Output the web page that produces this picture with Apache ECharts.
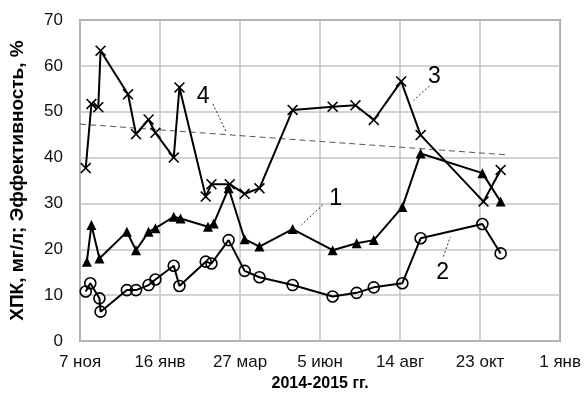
<!DOCTYPE html>
<html><head><meta charset="utf-8">
<script src="https://cdn.jsdelivr.net/npm/echarts@6/dist/echarts.min.js"></script>
<style>html,body{margin:0;padding:0;background:#fff}#c{width:584px;height:399px}</style>
</head><body><div id="c"></div>
<script>
// x values: days since 7 Nov 2014
const tickLabels = ['7 ноя','16 янв','27 мар','5 июн','14 авг','23 окт','1 янв'];
const s1Days = [6,10,17,41,49,60,66,82,88,112,117,130,144,157,186,221,242,257,282,298,352,368];
const s1Vals = [17.3,25.3,18.0,23.8,19.8,23.8,24.6,27.1,26.7,24.9,25.6,33.3,22.2,20.6,24.4,19.8,21.3,22.0,29.2,40.9,36.6,30.4];
const s2Days = [5,9,17,18,41,49,60,66,82,87,110,115,130,144,157,186,221,242,257,282,298,352,368];
const s2Vals = [10.8,12.6,9.3,6.4,11.1,11.1,12.2,13.4,16.4,12.0,17.3,16.9,22.0,15.3,13.9,12.2,9.7,10.5,11.7,12.6,22.4,25.5,19.1];
const s3Days = [5,10,16,18,42,49,60,66,82,87,110,115,131,144,157,186,221,241,257,281,298,353,368];
const s3Vals = [37.7,51.7,51.0,63.3,53.8,45.1,48.3,45.4,40.0,55.3,31.5,34.2,34.2,32.1,33.3,50.4,51.1,51.4,48.2,56.6,44.9,30.4,37.3];
const trendDays = [0,373];
const trendVals = [47.3,40.6];

const zip = (a,b)=>a.map((d,i)=>[d,b[i]]);
const FONT = 'Liberation Sans';
const X_PATH = 'path://M0,1L1,0L5,4L9,0L10,1L6,5L10,9L9,10L5,6L1,10L0,9L4,5Z';
const chart = echarts.init(document.getElementById('c'), null, {renderer:'canvas'});
const option = {
  animation:false,
  backgroundColor:'#fff',
  grid:{left:80,right:23,top:20,bottom:58,show:true,borderColor:'#555',borderWidth:1.5},
  xAxis:{type:'value',min:0,max:420,interval:70,
    axisLine:{show:false},axisTick:{show:false},
    splitLine:{show:true,lineStyle:{color:'#c4c4c4',width:1.5}},
    axisLabel:{color:'#111',fontFamily:FONT,fontSize:17,margin:13,
      formatter:v=>tickLabels[Math.round(v/70)]},
    name:'2014-2015 гг.',nameLocation:'middle',nameGap:34,
    nameTextStyle:{color:'#000',fontFamily:FONT,fontSize:16,fontWeight:'bold'}},
  yAxis:{type:'value',min:0,max:70,interval:10,
    axisLine:{show:false},axisTick:{show:false},
    splitLine:{show:true,lineStyle:{color:'#c4c4c4',width:1.5}},
    axisLabel:{color:'#111',fontFamily:FONT,fontSize:17,margin:17},
    name:'ХПК, мг/л; Эффективность, %',nameLocation:'middle',nameGap:53,
    nameTextStyle:{color:'#000',fontFamily:FONT,fontSize:19,fontWeight:'bold'}},
  series:[
    {type:'line',data:zip(trendDays,trendVals),symbol:'none',
      lineStyle:{color:'#555',width:1,type:[6,4]},z:1},
    {type:'line',data:zip(s1Days,s1Vals),symbol:'triangle',symbolSize:10,
      itemStyle:{color:'#000'},lineStyle:{color:'#000',width:2},z:3},
    {type:'line',data:zip(s2Days,s2Vals),symbol:'circle',symbolSize:11,
      itemStyle:{color:'rgba(255,255,255,0)',borderColor:'#000',borderWidth:1.6},
      lineStyle:{color:'#000',width:2},z:3},
    {type:'line',data:zip(s3Days,s3Vals),symbol:X_PATH,symbolSize:11,
      itemStyle:{color:'#000'},lineStyle:{color:'#000',width:2},z:3}
  ]
};
chart.setOption(option);
const notes = [
  {t:'4',at:[107.7,53.2],a:[116.3,51.7],b:[128.2,45.4]},
  {t:'3',at:[310,57.6],a:[305.7,55.6],b:[291.7,52.5]},
  {t:'1',at:[223.6,31.1],a:[212.5,29.7],b:[193.7,25.3]},
  {t:'2',at:[317.3,14.8],a:[317.9,18.4],b:[324,22.7]}
];
const g = [];
notes.forEach(n=>{
  const p = chart.convertToPixel({gridIndex:0},n.at);
  const a = chart.convertToPixel({gridIndex:0},n.a);
  const b = chart.convertToPixel({gridIndex:0},n.b);
  g.push({type:'text',x:p[0],y:p[1],style:{text:n.t,fill:'#000',font:'23px "Liberation Sans"',align:'center',verticalAlign:'middle'}});
  g.push({type:'line',shape:{x1:a[0],y1:a[1],x2:b[0],y2:b[1]},style:{stroke:'#333',lineWidth:1,lineDash:[2,2]}});
});
chart.setOption({graphic:g});
</script></body></html>
